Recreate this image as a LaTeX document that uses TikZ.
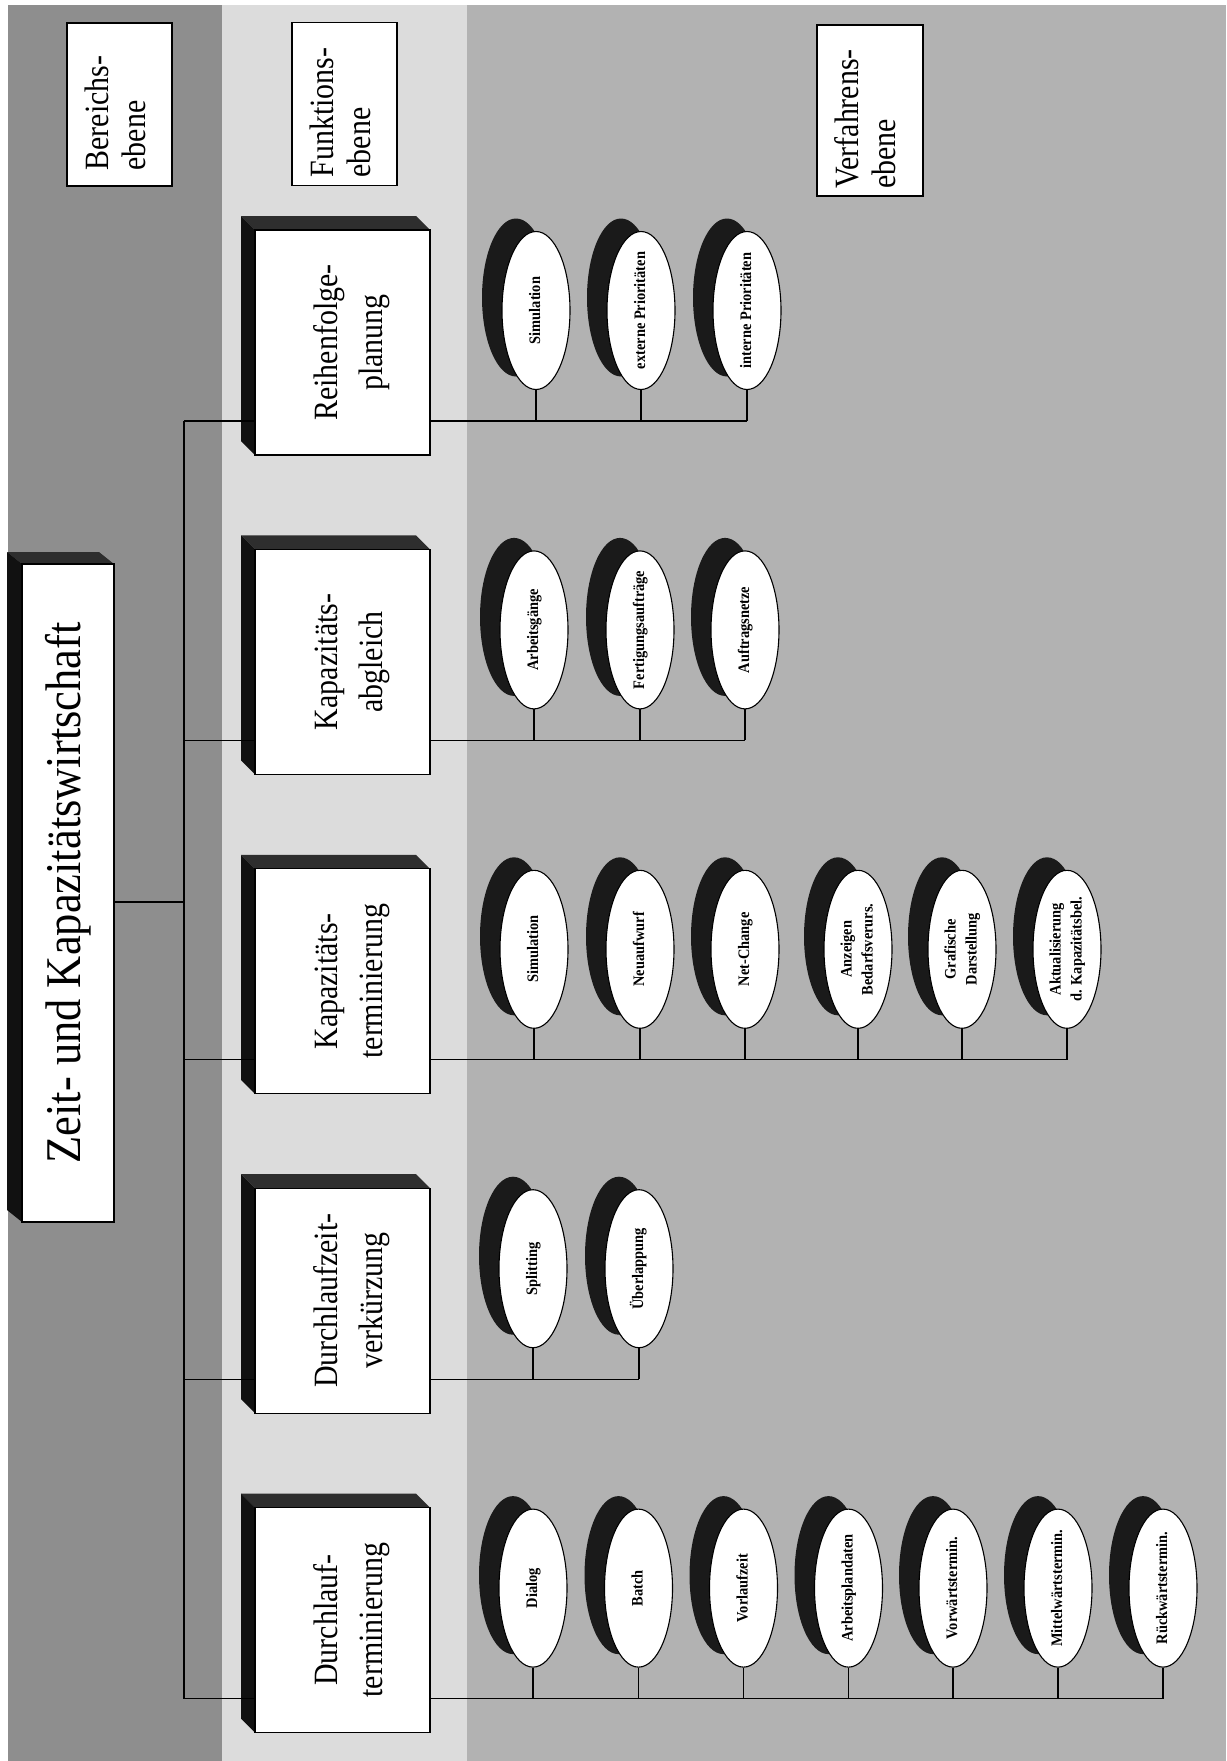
\documentclass[tikz,border=0pt]{standalone}
\usepackage{fontspec}
\setmainfont{Liberation Serif}
\newfontfamily\labfont{Liberation Serif}[FakeStretch=0.88]
\newfontfamily\titlefont{Liberation Serif}[FakeStretch=0.89]
\newfontfamily\elfont{Liberation Serif}[FakeStretch=0.9]
\usetikzlibrary{shapes.geometric}
\definecolor{bandA}{HTML}{8E8E8E}
\definecolor{bandB}{HTML}{DCDCDC}
\definecolor{bandC}{HTML}{B2B2B2}
\definecolor{shtop}{HTML}{2E2E2E}
\definecolor{shleft}{HTML}{111111}
\definecolor{shell}{HTML}{1A1A1A}
\newcommand\headfont{\labfont\fontsize{34}{37}\selectfont}
\newcommand\boxfont{\labfont\fontsize{34}{45}\selectfont}
\newcommand\procfont{\elfont\bfseries\fontsize{16}{21}\selectfont}
\newcommand\headtext[1]{\rotatebox{90}{\headfont\begin{tabular}{@{}l@{\hspace{17pt}}}#1\end{tabular}}}
\tikzset{
  conn/.style={draw=black, line width=1.3pt},
  headbox/.style={draw=black, line width=1.2pt, fill=white, minimum width=105pt, minimum height=163pt, inner sep=0pt},
  funcbox/.style={draw=black, line width=1.2pt, fill=white, minimum width=175pt, minimum height=225pt, inner sep=0pt},
  mainbox/.style={draw=black, line width=1.2pt, fill=white, minimum width=92pt, minimum height=658pt, inner sep=0pt},
  procbox/.style={ellipse, draw=black, line width=1.1pt, fill=white, minimum width=68pt, minimum height=158pt, inner sep=0pt},
}
% function box with 3D extrusion: name, centre y, text
\newcommand\funcbox[3]{%
  \fill[shtop] (241,#2-126.5) -- (416,#2-126.5) -- (430,#2-112.5) -- (255,#2-112.5) -- cycle;
  \fill[shleft] (241,#2-126.5) -- (255,#2-112.5) -- (255,#2+112.5) -- (241,#2+98.5) -- cycle;
  \node[funcbox] (#1) at (342.5,#2) {\rotatebox{90}{\raisebox{-8pt}[\height][\depth]{\boxfont\begin{tabular}{@{}c@{}}#3\end{tabular}}}};
}
% procedure ellipse with shadow: name, x, y, text
\newcommand\procnode[4]{%
  \fill[shell] (#2-20,#3-13) ellipse [x radius=34pt, y radius=79pt];
  \node[procbox] (#1) at (#2,#3) {\rotatebox{90}{\makebox[0pt]{\procfont\begin{tabular}{@{}c@{}}#4\end{tabular}}}};
}
\begin{document}
\begin{tikzpicture}[x=1pt,y=-1pt]
\useasboundingbox (0,0) rectangle (1226,1761);
\fill[white] (0,0) rectangle (1226,1761);
\fill[bandA] (8,5) rectangle (222,1761);
\fill[bandB] (222,5) rectangle (467,1761);
\fill[bandC] (467,5) rectangle (1226,1761);

% level headers
\node[headbox] (hb) at (119.5,104.5) {\headtext{Bereichs-\\ebene}};
\node[headbox] (hf) at (344.5,104) {\headtext{Funktions-\\ebene}};
\node[headbox, minimum width=106pt, minimum height=171pt] (hv) at (870,110.5) {\headtext{Verfahrens-\\ebene}};

% main box
\fill[shtop] (7,552) -- (99,552) -- (114,564) -- (22,564) -- cycle;
\fill[shleft] (7,552) -- (22,564) -- (22,1222) -- (7,1210) -- cycle;
\node[mainbox] (m) at (68,893) {\rotatebox{90}{\titlefont\fontsize{50}{60}\selectfont Zeit- und Kapazitätswirtschaft}};

% function boxes
\funcbox{f1}{342.5}{Reihenfolge-\\planung}
\funcbox{f2}{661.9}{Kapazitäts-\\abgleich}
\funcbox{f3}{981.3}{Kapazitäts-\\terminierung}
\funcbox{f4}{1300.7}{Durchlaufzeit-\\verkürzung}
\funcbox{f5}{1620.1}{Durchlauf-\\terminierung}

% procedures
\procnode{e11}{536}{310.5}{Simulation}
\procnode{e12}{641}{310.5}{externe Prioritäten}
\procnode{e13}{747}{310.5}{interne Prioritäten}

\procnode{e21}{534}{629.9}{Arbeitsgänge}
\procnode{e22}{640}{629.9}{Fertigungsaufträge}
\procnode{e23}{745}{629.9}{Auftragsnetze}

\procnode{e31}{534}{949.3}{Simulation}
\procnode{e32}{640}{949.3}{Neuaufwurf}
\procnode{e33}{745}{949.3}{Net-Change}
\procnode{e34}{858}{949.3}{Anzeigen\\Bedarfsverurs.}
\procnode{e35}{962}{949.3}{Grafische\\Darstellung}
\procnode{e36}{1067}{949.3}{Aktualisierung\\d. Kapazitätsbel.}

\procnode{e41}{533}{1268.7}{Splitting}
\procnode{e42}{639}{1268.7}{Überlappung}

\procnode{e51}{533}{1588.1}{Dialog}
\procnode{e52}{638.5}{1588.1}{Batch}
\procnode{e53}{743.5}{1588.1}{Vorlaufzeit}
\procnode{e54}{848.5}{1588.1}{Arbeitsplandaten}
\procnode{e55}{953}{1588.1}{Vorwärtstermin.}
\procnode{e56}{1058}{1588.1}{Mittelwärtstermin.}
\procnode{e57}{1163}{1588.1}{Rückwärtstermin.}

% connectors
\coordinate (j0) at (184,902);
\coordinate (t1) at (184,421);
\coordinate (t2) at (184,740.4);
\coordinate (t3) at (184,1059.8);
\coordinate (t4) at (184,1379.2);
\coordinate (t5) at (184,1698.6);
\draw[conn] (m.east |- j0) -- (j0);
\draw[conn] (t1) -- (t5);
\foreach \r/\n in {1/3,2/3,3/6,4/2,5/7}{
  \draw[conn] (t\r) -- (f\r.west |- t\r);
  \draw[conn] (f\r.east |- t\r) -- (e\r\n.south |- t\r);
  \foreach \k in {1,...,\n}{
    \draw[conn] (e\r\k.south) -- (e\r\k.south |- t\r);
  }
}
\end{tikzpicture}
\end{document}
